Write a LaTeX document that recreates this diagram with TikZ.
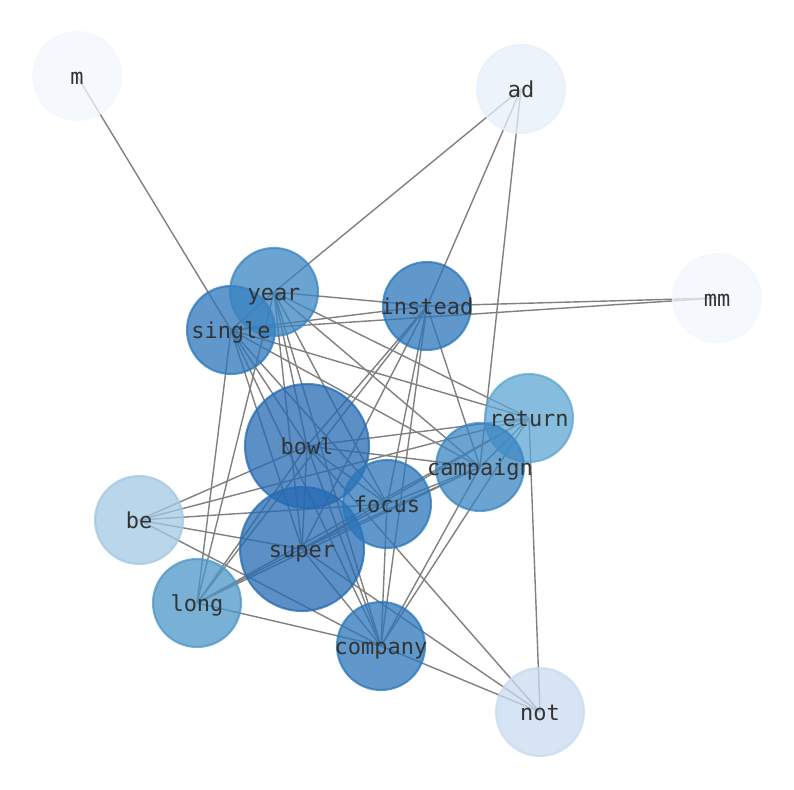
\documentclass[tikz,border=0pt]{standalone}
\usepackage{fontspec}
\setmonofont{DejaVu Sans Mono}
\definecolor{blueA}{RGB}{242,247,254}
\definecolor{blueB}{RGB}{231,239,250}
\definecolor{blueC}{RGB}{200,219,239}
\definecolor{blueD}{RGB}{162,200,227}
\definecolor{blueE}{RGB}{94,166,210}
\definecolor{blueF}{RGB}{75,150,200}
\definecolor{blueG}{RGB}{57,133,194}
\definecolor{blueH}{RGB}{43,118,187}
\definecolor{blueI}{RGB}{36,106,179}
\pgfdeclarelayer{edges}
\pgfsetlayers{edges,main}
\begin{document}
\begin{tikzpicture}[
    x=0.02cm, y=-0.02cm,
    word/.style={circle, draw=#1, fill=#1, line width=1.2pt,
        fill opacity=0.75, draw opacity=0.75, inner sep=0pt,
        minimum size=1.76cm},
    bigword/.style={word=#1, minimum size=2.48cm},
    wordtext/.style={font=\ttfamily\fontsize{12.5}{15}\selectfont,
        text=black!80, inner sep=0pt, text height=1.4ex, text depth=0pt,
        yshift=-1.7pt},
    link/.style={draw=gray, line width=0.8pt}
]
\useasboundingbox (0,0) rectangle (794,790);

\node (M) [word=blueA] at (77,76) {};
\node (Ad) [word=blueB] at (521,89) {};
\node (Mm) [word=blueA] at (717,298) {};
\node (Single) [word=blueH] at (231,330) {};
\node (Year) [word=blueG] at (274,292) {};
\node (Instead) [word=blueH] at (427,306) {};
\node (Return) [word=blueE] at (529,418) {};
\node (Bowl) [bigword=blueI] at (307,446) {};
\node (Super) [bigword=blueI] at (302,549) {};
\node (Campaign) [word=blueG] at (480,467) {};
\node (Focus) [word=blueH] at (387,504) {};
\node (Be) [word=blueD] at (139,520) {};
\node (Long) [word=blueF] at (197,603) {};
\node (Company) [word=blueH] at (381,646) {};
\node (Not) [word=blueC] at (540,712) {};

\begin{pgfonlayer}{edges}
\foreach \a/\b in {M/Single, Ad/Year, Ad/Instead, Ad/Campaign,
    Mm/Instead, Mm/Single, Not/Return, Not/Company, Not/Super, Not/Bowl,
    Year/Instead, Year/Single, Year/Bowl, Year/Super, Year/Focus,
    Year/Campaign, Year/Return, Year/Long, Year/Company,
    Single/Instead, Single/Bowl, Single/Super, Single/Focus,
    Single/Campaign, Single/Return, Single/Long, Single/Company,
    Instead/Bowl, Instead/Super, Instead/Focus, Instead/Company,
    Instead/Campaign, Instead/Long,
    Be/Bowl, Be/Return, Be/Focus, Be/Super, Be/Company,
    Long/Company, Long/Focus, Long/Campaign, Long/Return, Long/Bowl,
    Bowl/Super, Bowl/Focus, Bowl/Campaign, Bowl/Return, Bowl/Company,
    Super/Focus, Super/Campaign, Super/Return, Super/Company,
    Focus/Campaign, Focus/Company,
    Campaign/Company, Campaign/Return, Return/Company}
  \draw [link] (\a.center) -- (\b.center);
\end{pgfonlayer}

\foreach \n/\t in {M/m, Ad/ad, Mm/mm, Single/single, Year/year,
    Instead/instead, Return/return, Bowl/bowl, Super/super,
    Campaign/campaign, Focus/focus, Be/be, Long/long,
    Company/company, Not/not}
  \node (\n-t) [wordtext] at (\n) {\t};

\end{tikzpicture}
\end{document}
